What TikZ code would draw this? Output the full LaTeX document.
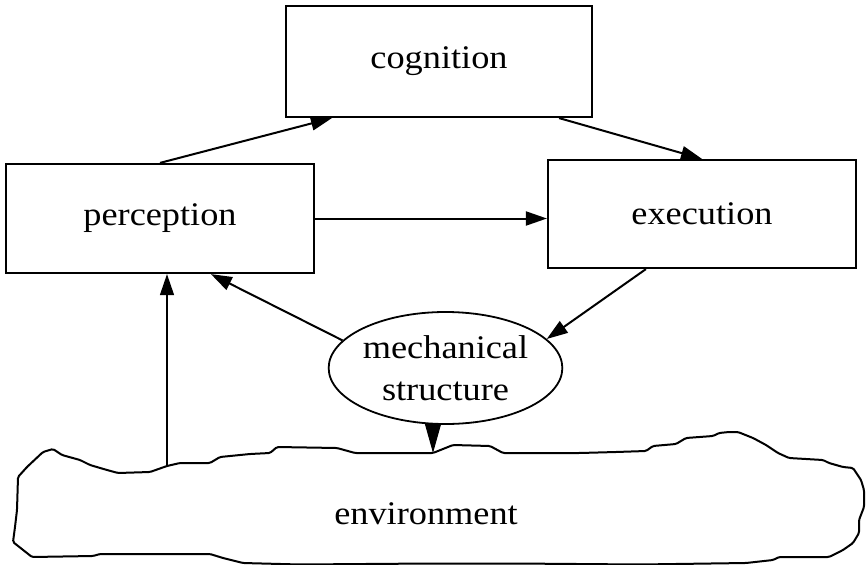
\documentclass[tikz,border=0pt]{standalone}
\usepackage{fontspec}
\setmainfont{Liberation Serif}[FakeStretch=1.1]
\usetikzlibrary{arrows.meta,shapes.geometric,calc}
\newcommand\bigtext{\fontsize{33}{42}\selectfont}
\begin{document}
\begin{tikzpicture}[x=1pt,y=-1pt,
  box/.style={draw,line width=2.2pt,rectangle,inner sep=0pt,font=\bigtext},
  arr/.style={line width=2pt,-{Triangle[length=21pt,width=14pt]}},
  thinarr/.style={line width=1.3pt,-{Triangle[length=21pt,width=14pt]}},
  cloud/.style={draw,line width=2pt,rounded corners=1.5pt}]
\useasboundingbox (0,0) rectangle (866,564);
\node[box,minimum width=306pt,minimum height=111pt] (cog) at (439,61.5) {cognition};
\node[box,minimum width=308pt,minimum height=109pt] (perc) at (160,218.5) {perception};
\node[box,minimum width=308pt,minimum height=108pt] (exec) at (702,214) {execution};
\node[ellipse,draw,line width=1.8pt,minimum width=205pt,minimum height=112pt,inner sep=0pt,align=center,font=\bigtext] (mech) at (445.5,368) {mechanical\\structure};
\draw[cloud] (13,542) -- (15,527) -- (17,510) -- (18,477) -- (27,467) -- (43,452) -- (53,449) -- (62,455) -- (80,460) -- (90,465) -- (107,470) -- (118,473) -- (150,472) -- (167,466) -- (180,463) -- (210,463) -- (220,457) -- (250,454) -- (270,453) -- (277,447) -- (337,448) -- (355,453) -- (433,453) -- (453,445) -- (490,446) -- (503,453) -- (580,453) -- (616,452) -- (646,451) -- (653,446) -- (676,444) -- (686,438) -- (713,436) -- (719,433) -- (729,432) -- (738,432) -- (753,438) -- (766,445) -- (778,453) -- (789,458) -- (823,460) -- (829,463) -- (843,467) -- (853,468) -- (861,480) -- (864,490) -- (864,507) -- (859,520) -- (859,533) -- (853,543) -- (843,550) -- (829,557) -- (779,557) -- (773,560) -- (746,563) -- (640,564.5) -- (527,563.6) -- (417,563.6) -- (300,564.5) -- (243,563) -- (223,558) -- (210,554) -- (100,554) -- (93,556) -- (32,557) -- cycle;
\coordinate (envleft) at (167,466);
\coordinate (envtop) at (433,453);
\node[font=\bigtext] (env) at (426,514) {environment};
\draw[arr] (perc.north) -- ($(cog.south west)+(47,0)$);
\draw[arr] ($(cog.south east)+(-34,0)$) -- (exec.north);
\draw[arr] (perc.east) -- (perc.east -| exec.west);
\draw[arr] (mech.165) -- ($(perc.south west)+(206,0)$);
\draw[arr] ($(exec.south west)+(99,0)$) -- (mech.16);
\draw[thinarr] (envleft) -- (envleft |- perc.south);
\draw[line width=1pt,-{Triangle[length=29pt,width=16pt]}] (envtop |- mech.south) -- (envtop);
\end{tikzpicture}
\end{document}
